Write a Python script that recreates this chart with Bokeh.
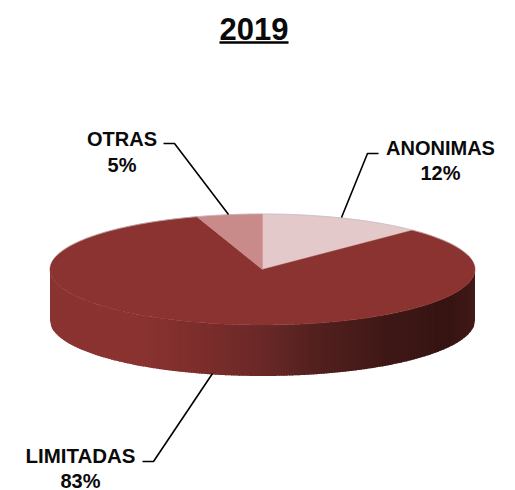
import numpy as np
from bokeh.plotting import figure
from bokeh.models import Range1d
from bokeh.core.properties import value
from bokeh.embed import file_html
from bokeh.resources import INLINE

title = "2019"
categories = ["ANONIMAS", "LIMITADAS", "OTRAS"]
shares = [12.5, 82.5, 5.0]
labels_pct = ["12%", "83%", "5%"]
colors = ["#e3c9ca", "#8a3331", "#c98b89"]

CX, CY, RX, RY, DEPTH = 262.0, 269.0, 212.5, 55.5, 51.0

p = figure(width=515, height=490, output_backend="svg", toolbar_location=None,
           x_range=Range1d(0, 515), y_range=Range1d(490, 0),
           min_border=0, outline_line_color=None)
p.xaxis.visible = False
p.yaxis.visible = False
p.grid.visible = False
p.background_fill_color = "white"

# side wall as thin shaded strips
stops_x = [0.0, 0.22, 0.38, 0.5, 0.62, 0.8, 0.94, 1.0]
stops_r = [0x8a, 0x8a, 0x7a, 0x6a, 0x54, 0x3e, 0x36, 0x42]
stops_g = [0x33, 0x33, 0x2d, 0x29, 0x21, 0x18, 0x14, 0x1a]
stops_b = [0x31, 0x31, 0x2b, 0x28, 0x1f, 0x16, 0x12, 0x18]
edges = np.linspace(-1, 1, 161)
xs, ys, cs = [], [], []
for a, b in zip(edges[:-1], edges[1:]):
    t = np.linspace(a, min(b + 0.006, 1), 4)
    xx = CX + RX * t
    top = CY + RY * np.sqrt(1 - t**2)
    xs.append(np.r_[xx, xx[::-1]])
    ys.append(np.r_[top, (top + DEPTH)[::-1]])
    f = (a + b + 2) / 4
    c = (np.interp(f, stops_x, stops_r), np.interp(f, stops_x, stops_g), np.interp(f, stops_x, stops_b))
    cs.append("#%02x%02x%02x" % tuple(int(v) for v in c))
p.patches(xs, ys, fill_color=cs, line_color=None)

# top face, clockwise from 12 o'clock
start = 0.0
for share, col in zip(shares, colors):
    th = np.radians(np.linspace(start, start + share, 180) * 3.6)
    start += share
    x = np.r_[CX, CX + RX * np.sin(th)]
    y = np.r_[CY, CY - RY * np.cos(th)]
    p.patch(x, y, fill_color=col, line_color=col, line_width=0.5)

# thin gray rim on the back of the pie
th = np.radians(np.linspace(-75, 75, 200))
p.line(CX + RX * np.sin(th), CY - RY * np.cos(th), line_color="#c4baba", line_width=0.7)

# leader lines
leaders = [([341, 367, 378], [217, 153, 153]),
           ([212, 153, 142], [373, 461, 461]),
           ([228, 174, 163], [214, 143, 143])]
for lx, ly in leaders:
    p.line(lx, ly, line_color="black", line_width=1.6)

font = value("Liberation Sans")
def txt(x, y, s, size):
    p.text([x], [y], text=[s], text_font=font, text_font_style="bold",
           text_font_size=size, text_color="#0a0a0a", text_align="center", text_baseline="middle")

txt(253.5, 28, title, "31px")
p.line([219, 288], [42, 42], line_color="black", line_width=2.5)
label_pos = [(440, 147, 172), (80, 455, 480), (121.5, 138, 164)]
for cat, pct, (lx, y1, y2) in zip(categories, labels_pct, label_pos):
    txt(lx, y1, cat, "20.5px" if cat == "LIMITADAS" else "20px")
    txt(lx, y2, pct, "20px")

open("out.html", "w").write(file_html(p, INLINE))
